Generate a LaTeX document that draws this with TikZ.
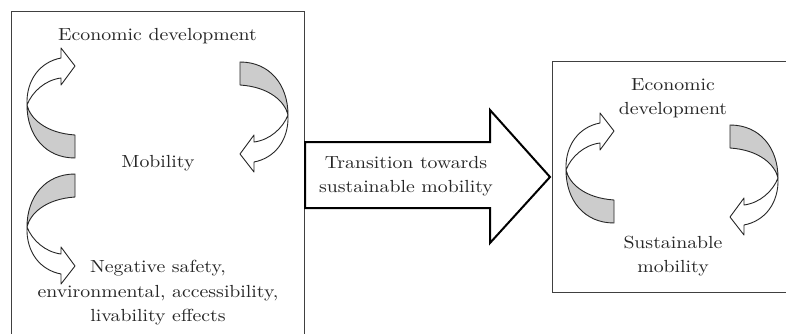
\documentclass[tikz,border=0pt]{standalone}
\usepackage{fontspec}
\setmainfont{lmroman10-regular.otf}[FakeStretch=1.13]
\definecolor{ribbongray}{gray}{0.8}
\tikzset{
  rline/.style={line width=0.9pt, draw=black!85, line join=round},
  lbl/.style={font=\fontsize{17.5}{24.5}\selectfont, align=center, inner sep=0pt, text=black!85},
  frame/.style={draw=black!75, line width=1pt},
  bigarrow/.style={draw=black, line width=2pt, fill=white, line join=miter},
  ribbon/.pic={
    \draw[rline, fill=ribbongray] (0,0) .. controls (3,13) and (18,28) .. (48,30)
      -- (48,53) .. controls (18,53) and (0,30) .. (0,0) -- cycle;
    \draw[rline, fill=white] (0,0) .. controls (-1,-25) and (13,-43) .. (34,-47)
      -- (34,-57) -- (48,-39) -- (34,-20) -- (34,-27)
      .. controls (18,-25) and (5,-13) .. (0,0) -- cycle;
  },
}
\begin{document}
\begin{tikzpicture}[x=1pt,y=-1pt]
\useasboundingbox (0,0) rectangle (786,334);
\clip (0,0) rectangle (786,334);
\fill[white] (0,0) rectangle (786,334);
% frames
\draw[frame] (11,12) rectangle (304,345);
\draw[frame] (552,62) rectangle (795,292);
% transition arrow
\draw[bigarrow] (305,142) -- (490,142) -- (490,110) -- (550,177) -- (490,243)
  -- (490,208) -- (305,208) -- cycle;
% ribbon arrows, left box
\pic at (27,105) {ribbon};
\pic[rotate=180] at (288,115) {ribbon};
\pic[yscale=-1] at (27,227) {ribbon};
% ribbon arrows, right box
\pic at (566,170) {ribbon};
\pic[rotate=180] at (778,178) {ribbon};
% labels
\node[lbl, anchor=base] (ed1) at (157.5,41) {Economic development};
\node[lbl, anchor=base] (mob) at (158,167) {Mobility};
\node[lbl] (neg) at (158,293) {Negative safety,\\ environmental, accessibility,\\ livability effects};
\node[lbl] (trans) at (406,176) {Transition towards\\ sustainable mobility};
\node[lbl] (ed2) at (673,98) {Economic\\ development};
\node[lbl] (sm) at (673,256) {Sustainable\\ mobility};
\end{tikzpicture}
\end{document}
